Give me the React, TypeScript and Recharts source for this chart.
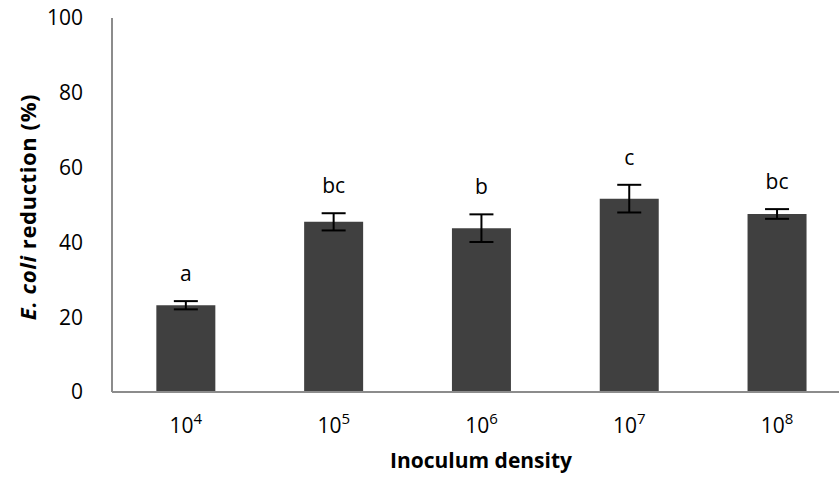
import { BarChart, Bar, XAxis, YAxis, ErrorBar, LabelList, Label } from "recharts";

const exponents = ["4", "5", "6", "7", "8"];
const reduction = [23.2, 45.5, 43.8, 51.7, 47.6];
const errors = [1.1, 2.3, 3.7, 3.7, 1.3];
const letters = ["a", "bc", "b", "c", "bc"];
const yTicks = [0, 20, 40, 60, 80, 100];

const data = exponents.map((e, i) => ({
  density: e,
  reduction: reduction[i],
  err: errors[i],
  letter: letters[i],
}));

const font = "'Open Sans', sans-serif";

const XTick = (props: any) => {
  const { x, y, payload } = props;
  return (
    <text x={x} y={y + 41} textAnchor="middle" fontFamily={font} fontSize={21} fill="#000">
      <tspan>10</tspan>
      <tspan dy={-9} fontSize={15}>
        {payload.value}
      </tspan>
    </text>
  );
};

const renderLetter = (props: any) => {
  const { x, y, width, height, value, index } = props;
  const perUnit = height / reduction[index];
  const errTop = y - errors[index] * perUnit;
  return (
    <text
      x={x + width / 2}
      y={errTop - 27 + 7}
      textAnchor="middle"
      fontFamily={font}
      fontSize={21}
      fill="#000"
    >
      {value}
    </text>
  );
};

export default function App() {
  return (
    <div style={{ position: "absolute", left: 0, top: 0, width: 839, height: 485, overflow: "hidden", background: "#fff" }}>
      <BarChart
        width={851}
        height={485}
        data={data}
        margin={{ top: 18, right: 0, left: 0, bottom: 0 }}
        barCategoryGap="30%"
      >
        <XAxis
          dataKey="density"
          height={93}
          tickSize={0}
          tickMargin={0}
          tick={<XTick />}
          axisLine={{ stroke: "#8c8c8c", strokeWidth: 2 }}
          tickLine={false}
        >
          <Label
            content={() => (
              <text x={481} y={468} textAnchor="middle" fontFamily={font} fontSize={21} fontWeight="bold" fill="#000">
                Inoculum density
              </text>
            )}
          />
        </XAxis>
        <YAxis
          width={112}
          domain={[0, 100]}
          ticks={yTicks}
          tickSize={0}
          tickMargin={29}
          tick={{ fontFamily: font, fontSize: 21, fill: "#000" }}
          axisLine={{ stroke: "#8c8c8c", strokeWidth: 2 }}
          tickLine={false}
        >
          <Label
            content={() => (
              <text
                transform="translate(36,207) rotate(-90)"
                textAnchor="middle"
                fontFamily={font}
                fontSize={22}
                fontWeight="bold"
                letterSpacing={0.6}
                fill="#000"
              >
                <tspan fontStyle="italic">E. coli</tspan>
                <tspan> reduction (%)</tspan>
              </text>
            )}
          />
        </YAxis>
        <Bar dataKey="reduction" fill="#404040" isAnimationActive={false}>
          <ErrorBar dataKey="err" width={12} stroke="#000" strokeWidth={2} isAnimationActive={false} />
          <LabelList dataKey="letter" content={renderLetter} />
        </Bar>
      </BarChart>
    </div>
  );
}
